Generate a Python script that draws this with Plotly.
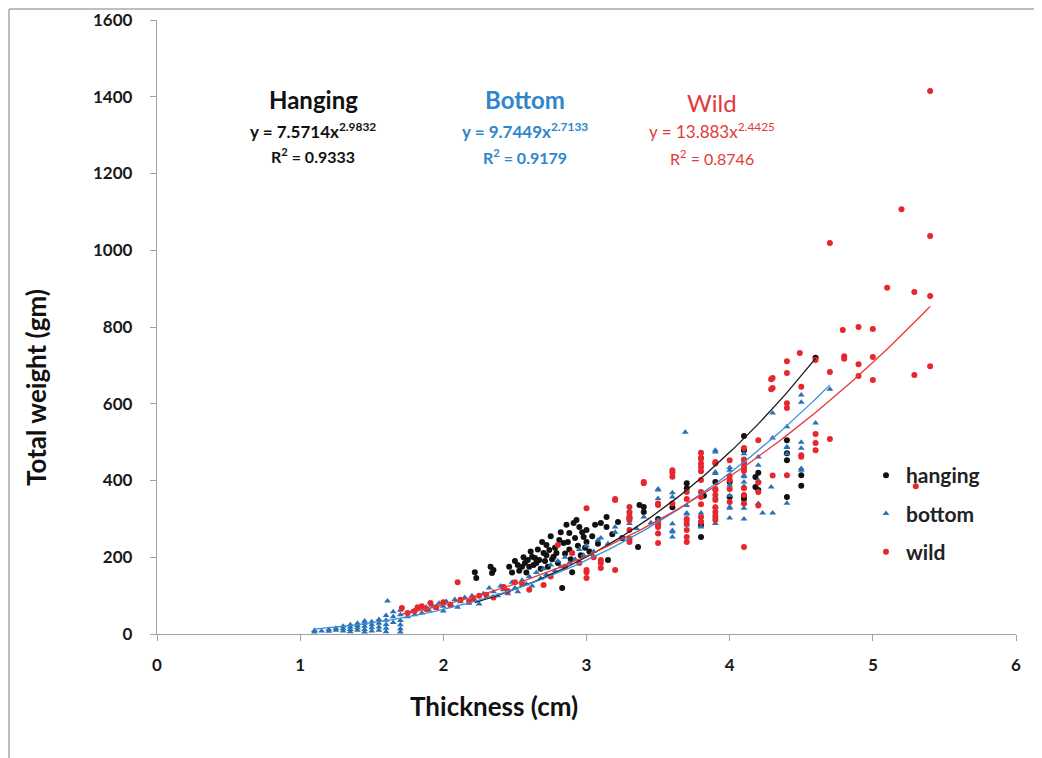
import numpy as np
import plotly.graph_objects as go

# ---------------- data ----------------
hanging_x = [2.22, 2.23, 2.33, 2.35, 2.34, 2.42, 2.46, 2.48, 2.50, 2.52, 2.53, 2.55, 2.56, 2.57, 2.58,
             2.59, 2.60, 2.61, 2.62, 2.63, 2.64, 2.65, 2.66, 2.67, 2.68, 2.69, 2.70, 2.71, 2.72, 2.72,
             2.73, 2.74, 2.75, 2.76, 2.77, 2.78, 2.79, 2.80, 2.81, 2.82, 2.83, 2.84, 2.85, 2.86, 2.87,
             2.88, 2.88, 2.89, 2.90, 2.91, 2.92, 2.93, 2.94, 2.95, 2.96, 2.97, 2.98, 2.99, 3.00, 3.00,
             3.02, 3.04, 3.06, 3.08, 3.10, 3.14, 3.14, 3.15, 3.18, 3.22, 3.25, 3.30, 3.36, 3.37, 3.40,
             3.40, 3.50, 3.60, 3.70, 3.70, 3.80, 3.80, 3.82, 3.90, 4.00, 4.00, 4.10, 4.10, 4.10, 4.10,
             4.18, 4.18, 4.20, 4.20, 4.40, 4.40, 4.40, 4.40, 4.50, 4.50, 4.60]
hanging_y = [161, 146, 175, 167, 159, 122, 175, 160, 190, 180, 165, 175, 200, 185, 160,
             193, 175, 215, 201, 180, 198, 185, 220, 193, 170, 240, 211, 190, 232, 205,
             175, 219, 255, 195, 201, 225, 211, 185, 245, 265, 120, 237, 210, 285, 240,
             263, 220, 195, 161, 289, 250, 297, 230, 279, 205, 265, 253, 225, 271, 240,
             215, 255, 285, 235, 289, 305, 279, 193, 260, 292, 250, 302, 227, 336, 331,
             318, 300, 330, 393, 380, 253, 284, 360, 396, 357, 396, 516, 479, 352, 360,
             409, 383, 420, 375, 505, 471, 453, 357, 414, 386, 720]

bottom_x = [1.10, 1.10, 1.15, 1.20, 1.20, 1.25, 1.25, 1.30, 1.30, 1.30, 1.35, 1.35, 1.35, 1.35, 1.40,
            1.40, 1.40, 1.40, 1.45, 1.45, 1.45, 1.45, 1.45, 1.50, 1.50, 1.50, 1.50, 1.55, 1.55, 1.55,
            1.55, 1.60, 1.60, 1.60, 1.60, 1.60, 1.61, 1.65, 1.65, 1.65, 1.70, 1.70, 1.70, 1.70, 1.70,
            1.70, 1.75, 1.78, 1.80, 1.82, 1.85, 1.88, 1.90, 1.92, 1.95, 1.97, 2.00, 2.00, 2.02, 2.05,
            2.08, 2.10, 2.12, 2.15, 2.18, 2.20, 2.22, 2.25, 2.28, 2.30, 2.32, 2.35, 2.38, 2.40, 2.42,
            2.45, 2.48, 2.50, 2.52, 2.55, 2.58, 2.60, 2.62, 2.65, 2.68, 2.70, 2.72, 2.75, 2.78, 2.80,
            2.82, 2.85, 2.88, 2.90, 2.92, 2.95, 2.98, 3.00, 3.05, 3.08, 3.10, 3.15, 3.20, 3.20, 3.25,
            3.30, 3.30, 3.35, 3.40, 3.45, 3.50, 3.50, 3.50, 3.50, 3.50, 3.60, 3.60, 3.60, 3.60, 3.60,
            3.60, 3.69, 3.70, 3.70, 3.70, 3.70, 3.70, 3.80, 3.80, 3.80, 3.90, 3.90, 3.90, 3.90, 3.90,
            3.90, 3.90, 3.90, 4.00, 4.00, 4.00, 4.00, 4.00, 4.00, 4.00, 4.10, 4.10, 4.10, 4.10, 4.10,
            4.10, 4.10, 4.10, 4.10, 4.20, 4.20, 4.20, 4.20, 4.23, 4.29, 4.30, 4.30, 4.30, 4.40, 4.40,
            4.40, 4.40, 4.40, 4.50, 4.50, 4.50, 4.50, 4.50, 4.50, 4.60, 4.70]
bottom_y = [5, 9, 8, 7, 12, 10, 15, 8, 14, 20, 6, 12, 18, 24, 10,
            16, 22, 28, 5, 12, 20, 28, 34, 8, 16, 24, 32, 10, 18, 28,
            38, 6, 15, 25, 36, 48, 86, 30, 45, 58, 5, 14, 24, 35, 50,
            62, 45, 58, 50, 65, 55, 70, 62, 75, 68, 80, 60, 72, 85, 78,
            90, 70, 84, 95, 80, 100, 88, 78, 105, 95, 120, 110, 100, 125, 115,
            105, 135, 120, 110, 140, 130, 150, 125, 160, 145, 170, 155, 180, 165, 190,
            175, 200, 185, 210, 195, 220, 205, 230, 215, 245, 250, 235, 265, 279, 250,
            288, 322, 275, 305, 290, 375, 378, 263, 297, 353, 357, 368, 287, 270, 266,
            253, 526, 335, 315, 313, 297, 284, 315, 297, 279, 479, 474, 418, 422, 357,
            331, 313, 288, 434, 427, 388, 361, 331, 328, 302, 470, 440, 414, 410, 396,
            385, 341, 328, 300, 461, 440, 400, 340, 315, 383, 576, 511, 315, 540, 488,
            486, 470, 341, 623, 604, 500, 484, 431, 427, 550, 638]

wild_x = [1.71, 1.75, 1.80, 1.82, 1.85, 1.88, 1.91, 1.95, 2.00, 2.05, 2.10, 2.12, 2.18, 2.21, 2.25,
          2.30, 2.35, 2.42, 2.45, 2.50, 2.55, 2.60, 2.70, 2.75, 2.80, 2.85, 2.90, 2.95, 3.00, 3.00,
          3.00, 3.00, 3.05, 3.10, 3.10, 3.10, 3.20, 3.20, 3.20, 3.30, 3.30, 3.30, 3.30, 3.30, 3.30,
          3.30, 3.40, 3.40, 3.50, 3.50, 3.50, 3.50, 3.50, 3.50, 3.50, 3.60, 3.60, 3.60, 3.60, 3.70,
          3.70, 3.70, 3.70, 3.70, 3.70, 3.70, 3.80, 3.80, 3.80, 3.80, 3.80, 3.80, 3.80, 3.80, 3.80,
          3.80, 3.80, 3.80, 3.90, 3.90, 3.90, 3.90, 3.90, 3.90, 3.90, 3.90, 3.90, 3.90, 4.00, 4.00,
          4.00, 4.00, 4.00, 4.10, 4.10, 4.10, 4.10, 4.10, 4.10, 4.10, 4.10, 4.10, 4.20, 4.20, 4.20,
          4.20, 4.29, 4.29, 4.30, 4.30, 4.30, 4.40, 4.40, 4.40, 4.40, 4.40, 4.49, 4.50, 4.50, 4.50,
          4.60, 4.60, 4.60, 4.60, 4.70, 4.70, 4.70, 4.79, 4.80, 4.80, 4.90, 4.90, 4.90, 5.00, 5.00,
          5.00, 5.10, 5.20, 5.29, 5.29, 5.30, 5.40, 5.40, 5.40, 5.40]
wild_y = [68, 55, 60, 70, 72, 65, 81, 70, 83, 75, 135, 89, 85, 94, 100,
          102, 95, 122, 112, 135, 130, 115, 128, 150, 232, 175, 211, 185, 328, 161,
          146, 167, 200, 193, 185, 172, 352, 349, 167, 315, 297, 331, 305, 271, 248,
          240, 393, 396, 336, 340, 289, 283, 279, 262, 237, 427, 420, 410, 340, 370,
          352, 300, 287, 271, 253, 240, 472, 459, 457, 444, 435, 424, 401, 370, 357,
          338, 305, 292, 448, 444, 378, 375, 362, 349, 330, 318, 305, 297, 453, 412,
          401, 378, 344, 485, 455, 445, 432, 425, 380, 362, 340, 227, 505, 395, 370,
          335, 664, 638, 667, 641, 413, 711, 680, 601, 589, 414, 732, 644, 462, 466,
          714, 521, 498, 479, 1019, 683, 508, 792, 724, 717, 800, 703, 672, 795, 722,
          662, 902, 1107, 891, 675, 385, 1415, 1037, 881, 698]

# power-law trendline coefficients shown on the chart
hang_a, hang_b = 7.5714, 2.9832
bot_a, bot_b = 9.7449, 2.7133
wild_a, wild_b = 13.883, 2.4425

x_ticks = [0, 1, 2, 3, 4, 5, 6]
y_ticks = [0, 200, 400, 600, 800, 1000, 1200, 1400, 1600]

# ---------------- style ----------------
BLACK = "#111111"
BLUE = "#2a72b5"
RED = "#e8262e"
BLUE_TXT = "#2f86c9"
RED_TXT = "#e23a3a"
FONT = "Lato"

# figure origin offset in the page (default page body margin)
OX, OY = 8, 8
L, T, PW, PH = 157 - OX, 20 - OY, 859, 614
W, H = 1042, 758


def px2paper_x(px):
    return (px - OX - L) / PW


def px2paper_y(py):
    return (T + PH - (py - OY)) / PH


def trend(xs, a, b):
    g = np.linspace(min(xs), max(xs), 120)
    return g, a * g ** b


fig = go.Figure()
fig.add_trace(go.Scatter(x=hanging_x, y=hanging_y, mode="markers", name="hanging",
                         legendgroup="h",
                         marker=dict(symbol="circle", size=6, color=BLACK)))
fig.add_trace(go.Scatter(x=bottom_x, y=bottom_y, mode="markers", name="bottom",
                         legendgroup="b",
                         marker=dict(symbol="triangle-up", size=6, color=BLUE)))
fig.add_trace(go.Scatter(x=wild_x, y=wild_y, mode="markers", name="wild",
                         legendgroup="w",
                         marker=dict(symbol="circle", size=6, color=RED)))

for xs, a, b, c in [(hanging_x, hang_a, hang_b, "#1a1a1a"),
                    (bottom_x, bot_a, bot_b, "#3b8fd6"),
                    (wild_x, wild_a, wild_b, "#e53a3a")]:
    gx, gy = trend(xs, a, b)
    fig.add_trace(go.Scatter(x=gx, y=gy, mode="lines", showlegend=False,
                             hoverinfo="skip", line=dict(color=c, width=1.3)))

axis_common = dict(showgrid=False, zeroline=False, showline=True, linecolor="#a0a0a0",
                   linewidth=1.3, ticks="outside", ticklen=6, tickcolor="#a0a0a0",
                   automargin=False,
                   tickfont=dict(family=FONT, size=17, color="#1a1a1a", weight="bold"))
fig.update_xaxes(range=[0, 6], tickvals=x_ticks, ticklabelstandoff=9, **axis_common)
fig.update_yaxes(range=[0, 1600], tickvals=y_ticks, ticklabelstandoff=14, **axis_common)

ann = []


def add_block(xc, title, eq, r2, color, bold, ty, ey, ry):
    w = "bold" if bold else "normal"
    common = dict(showarrow=False, xref="x", yref="y", xanchor="center", yanchor="middle")
    ann.append(dict(x=xc, y=ty, text=title,
                    font=dict(family=FONT, size=24, color=color, weight=w), **common))
    ann.append(dict(x=xc, y=ey, text=eq,
                    font=dict(family=FONT, size=17, color=color, weight=w), **common))
    ann.append(dict(x=xc, y=ry, text=r2,
                    font=dict(family=FONT, size=16, color=color, weight=w), **common))


add_block(1.09, "Hanging", "y = 7.5714x<sup>2.9832</sup>", "R<sup>2</sup> = 0.9333",
          "#111111", True, 1393, 1313, 1247)
add_block(2.57, "Bottom", "y = 9.7449x<sup>2.7133</sup>", "R<sup>2</sup> = 0.9179",
          BLUE_TXT, True, 1393, 1311, 1245)
add_block(3.88, "Wild", "y = 13.883x<sup>2.4425</sup>", "R<sup>2</sup> = 0.8746",
          RED_TXT, False, 1384, 1311, 1243)

# axis titles
ann.append(dict(x=px2paper_x(494), y=px2paper_y(706), xref="paper", yref="paper",
                xanchor="center", yanchor="middle",
                text="Thickness (cm)", showarrow=False,
                font=dict(family=FONT, size=26, color="#111111", weight="bold")))
ann.append(dict(x=px2paper_x(36), y=px2paper_y(388), xref="paper", yref="paper",
                xanchor="center", yanchor="middle",
                text="Total weight (gm)", showarrow=False, textangle=-90,
                font=dict(family=FONT, size=26, color="#111111", weight="bold")))

shapes = [
    dict(type="line", xref="paper", yref="paper", x0=px2paper_x(9), x1=px2paper_x(9),
         y0=px2paper_y(9), y1=px2paper_y(780), line=dict(color="#a8a8a8", width=1.5)),
    dict(type="line", xref="paper", yref="paper", x0=px2paper_x(9), x1=px2paper_x(1060),
         y0=px2paper_y(9), y1=px2paper_y(9), line=dict(color="#a8a8a8", width=1.5)),
]

fig.update_layout(
    width=W, height=H,
    margin=dict(l=L, r=W - L - PW, t=T, b=H - T - PH, autoexpand=False),
    plot_bgcolor="white", paper_bgcolor="white",
    annotations=ann, shapes=shapes,
    legend=dict(x=px2paper_x(866), y=px2paper_y(455), xanchor="left", yanchor="top",
                font=dict(family=FONT, size=21, color="#222222", weight="bold"),
                traceorder="grouped", tracegroupgap=8, bgcolor="rgba(0,0,0,0)",
                itemwidth=30),
)

fig.write_html("out.html")
